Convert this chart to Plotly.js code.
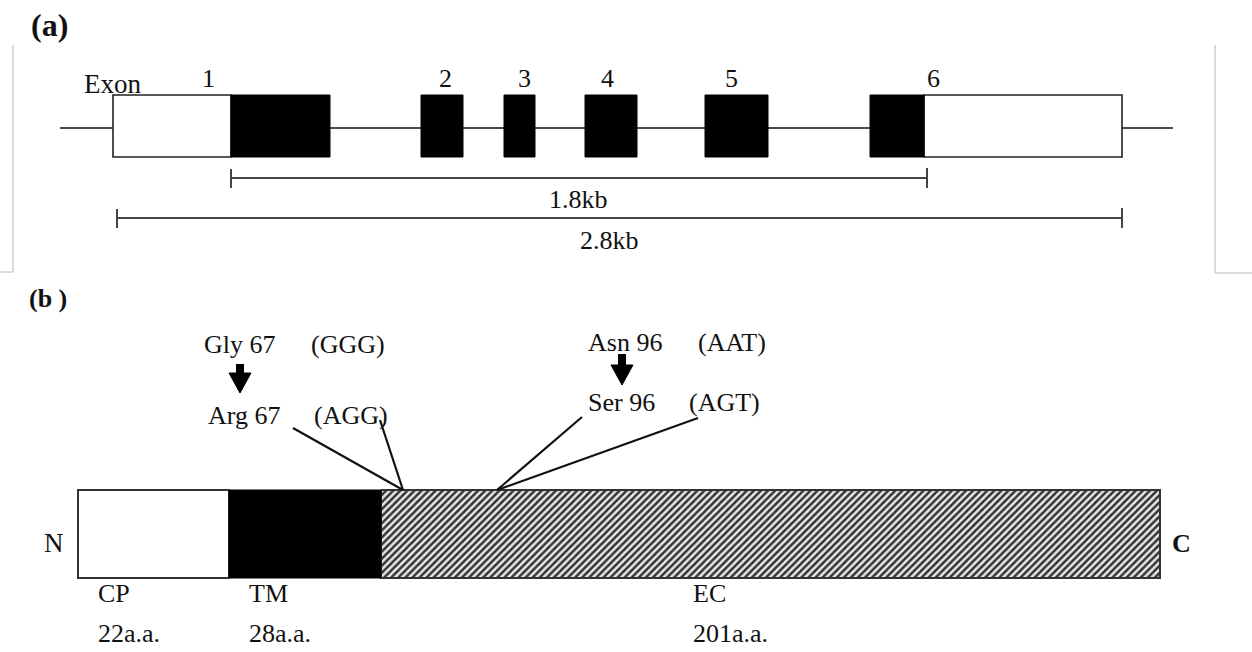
<!DOCTYPE html>
<html><head><meta charset="utf-8">
<script src="https://cdn.plot.ly/plotly-3.0.1.min.js"></script>
<style>html,body{margin:0;padding:0;background:#fff}#chart{width:1252px;height:652px}</style>
</head><body><div id="chart"></div>
<script>
// ---------- Panel (a): gene structure (diagram units along the gene) ----------
const exonLabels   = ['1', '2', '3', '4', '5', '6'];
const exonLabelX   = [208, 445, 524, 607, 731, 933];
const codingStart  = [231, 421, 504, 585, 705, 870];
const codingEnd    = [330, 463, 535, 637, 768, 924];
const utrStart     = [113, 924];
const utrEnd       = [231, 1122];
const intronStart  = [60, 330, 463, 535, 637, 768, 1122];
const intronEnd    = [113, 421, 504, 585, 705, 870, 1173];
const scaleLabels  = ['1.8kb', '2.8kb'];
const scaleStart   = [231, 117];
const scaleEnd     = [927, 1122];

// ---------- Panel (b): protein domains ----------
const domainNames  = ['CP', 'TM', 'EC'];
const domainLength = ['22a.a.', '28a.a.', '201a.a.'];
const domainStart  = [78, 229, 381];
const domainEnd    = [229, 381, 1160];
const domainLabelX = [96, 247, 691];

// ---------- Mutations ----------
const mutFrom      = ['Gly 67', 'Asn 96'];
const mutTo        = ['Arg 67', 'Ser 96'];
const codonFrom    = ['(GGG)', '(AAT)'];
const codonTo      = ['(AGG)', '(AGT)'];
const mutSiteX     = [403, 497];

// ---------- layout geometry ----------
const F = 'Liberation Serif, Times New Roman, serif';
const FS = 26;
const geneTop = 95, geneBot = 157, geneMid = 128;
const scaleY = [178, 218], scaleLabelY = [199, 240];
const protTop = 490, protBot = 578;
const fromTextX = [202, 586], fromCodonX = [309, 696], fromY = [344, 342];
const toTextX = [206, 586], toCodonX = [312, 687], toY = [415, 402];
const arrowX = [240, 622], arrowTop = [364, 354], arrowTip = [393, 385];
const leaderA = [[293, 428], [582, 417]], leaderB = [[380, 420], [698, 418]];

const shapes = [], ann = [], traces = [];
const L = (x0, y0, x1, y1, color, w) => shapes.push({type:'line', xref:'x', yref:'y', x0, y0, x1, y1, line:{color, width:w}});
const R = (x0, y0, x1, y1, fill, lc, w) => shapes.push({type:'rect', xref:'x', yref:'y', x0, y0, x1, y1, fillcolor:fill, line:{color:lc, width:w}, layer:'above'});
const T = (text, x, y, size, opts={}) => ann.push(Object.assign({text, x, y, xref:'x', yref:'y', showarrow:false, xanchor:'left', yanchor:'middle', font:{family:F, size, color:'#111'}}, opts));

// panel frame marks (light gray)
L(13, 45, 13, 272, '#cfcfcf', 1.5);
L(0, 272, 13, 272, '#cfcfcf', 1.5);
L(1215, 45, 1215, 273, '#cfcfcf', 1.5);
L(1215, 273, 1252, 273, '#cfcfcf', 1.5);

// introns
intronStart.forEach((s, i) => L(s, geneMid, intronEnd[i], geneMid, '#111', 1.6));
// UTRs (white) and coding (black)
utrStart.forEach((s, i) => R(s, geneTop, utrEnd[i], geneBot, '#fff', '#222', 1.6));
codingStart.forEach((s, i) => R(s, geneTop, codingEnd[i], geneBot, '#000', '#000', 1));
// labels
T('Exon', 82, 84, 27);
exonLabels.forEach((t, i) => T(t, exonLabelX[i], 78, FS, {xanchor:'center'}));
// scale bars
scaleLabels.forEach((t, i) => {
  L(scaleStart[i], scaleY[i], scaleEnd[i], scaleY[i], '#444', 2);
  L(scaleStart[i], scaleY[i] - 9, scaleStart[i], scaleY[i] + 10, '#444', 2);
  L(scaleEnd[i], scaleY[i] - 10, scaleEnd[i], scaleY[i] + 10, '#444', 2);
  T(t, (scaleStart[i] + scaleEnd[i]) / 2 - (i === 0 ? 1 : 10), scaleLabelY[i], FS, {xanchor:'center'});
});

// panel labels
T('<b>(a)</b>', 29, 25, 32);
T('<b>(b )</b>', 27, 298, 26);

// protein bar
R(domainStart[0], protTop, domainEnd[0], protBot, '#fff', '#333', 2);
R(domainStart[1], protTop, domainEnd[1], protBot, '#000', '#000', 1);
traces.push({type:'scatter', mode:'lines', hoverinfo:'skip',
  x:[domainStart[2], domainEnd[2], domainEnd[2], domainStart[2], domainStart[2]],
  y:[protTop, protTop, protBot, protBot, protTop],
  fill:'toself', fillcolor:'#e6e6e6',
  fillpattern:{shape:'/', fgcolor:'#333', bgcolor:'#e9e9e9', size:5, solidity:0.5},
  line:{color:'#333', width:2}});
domainNames.forEach((n, i) => {
  T(n, domainLabelX[i], 593, FS);
  T(domainLength[i], domainLabelX[i], 633, FS);
});
T('N', 42, 543, 27);
T('<b>C</b>', 1170, 543, 26);

// mutations
mutFrom.forEach((m, i) => {
  T(m, fromTextX[i], fromY[i], FS);
  T(codonFrom[i], fromCodonX[i], fromY[i], FS);
  T(mutTo[i], toTextX[i], toY[i], FS);
  T(codonTo[i], toCodonX[i], toY[i], FS);
  // arrow stem + head
  L(arrowX[i], arrowTop[i], arrowX[i], arrowTip[i] - 16, '#000', 8);
  const hy = arrowTip[i] - 20;
  shapes.push({type:'path', xref:'x', yref:'y',
    path:`M ${arrowX[i]-11} ${hy} L ${arrowX[i]+11} ${hy} L ${arrowX[i]} ${arrowTip[i]} Z`,
    fillcolor:'#000', line:{color:'#000', width:1}});
  // leader lines to site
  L(leaderA[i][0], leaderA[i][1], mutSiteX[i], protTop, '#111', 2.2);
  L(leaderB[i][0], leaderB[i][1], mutSiteX[i], protTop, '#111', 2.2);
});

const layout = {
  width:1252, height:652, margin:{l:0, r:0, t:0, b:0},
  paper_bgcolor:'#fff', plot_bgcolor:'#fff', showlegend:false,
  xaxis:{range:[0,1252], visible:false, fixedrange:true},
  yaxis:{range:[652,0], visible:false, fixedrange:true},
  shapes, annotations:ann
};
Plotly.newPlot('chart', traces, layout, {staticPlot:true});
</script></body></html>
